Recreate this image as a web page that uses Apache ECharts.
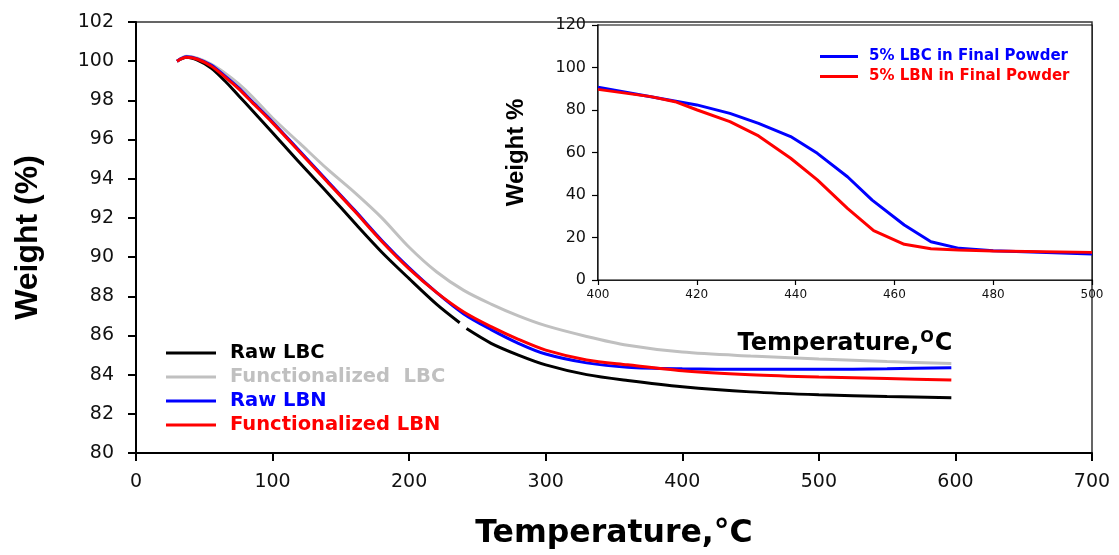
<!DOCTYPE html>
<html>
<head>
<meta charset="utf-8">
<script src="https://cdn.jsdelivr.net/npm/echarts@6/dist/echarts.min.js"></script>
<style>
html,body{margin:0;padding:0;background:#fff;}
#c{width:1119px;height:555px;}
</style>
</head>
<body>
<div id="c"></div>
<script>
// Main chart data: [temperature, weight %]
const rawLBC = [[30,100],[37,100.2],[45,100.05],[55,99.65],[65,99.0],[75,98.25],[85,97.5],[100,96.35],[120,94.8],[140,93.3],[160,91.75],[180,90.25],[200,88.9],[220,87.6],[237,86.65],[239.5,null],[242,86.35],[260,85.6],[280,85.0],[300,84.5],[330,84.0],[360,83.7],[400,83.38],[450,83.12],[500,82.97],[550,82.88],[597,82.82]];
const funcLBC = [[30,100],[37,100.25],[45,100.15],[55,99.85],[65,99.4],[75,98.85],[85,98.2],[100,97.1],[120,95.8],[140,94.5],[160,93.3],[180,92.0],[200,90.5],[220,89.25],[240,88.3],[260,87.6],[280,87.0],[300,86.5],[330,85.95],[360,85.5],[400,85.15],[450,84.95],[500,84.8],[550,84.67],[597,84.57]];
const rawLBN = [[30,100],[37,100.22],[45,100.12],[55,99.8],[65,99.25],[75,98.65],[85,97.95],[100,96.9],[120,95.4],[140,93.9],[160,92.4],[180,90.85],[200,89.45],[220,88.2],[240,87.1],[260,86.3],[280,85.6],[300,85.05],[330,84.6],[360,84.38],[400,84.3],[450,84.27],[500,84.27],[550,84.3],[597,84.35]];
const funcLBN = [[30,100],[37,100.2],[45,100.1],[55,99.75],[65,99.2],[75,98.6],[85,97.9],[100,96.85],[120,95.35],[140,93.85],[160,92.35],[180,90.8],[200,89.4],[220,88.2],[240,87.2],[260,86.45],[280,85.8],[300,85.25],[330,84.75],[360,84.5],[400,84.2],[450,84.0],[500,83.88],[550,83.8],[597,83.72]];

// Inset data: [temperature, weight %]
const insetLBC = [[400,90.7],[420,82.4],[426.7,78.4],[432.5,73.7],[439,67.5],[444.4,59.6],[450.5,48.6],[455.5,37.6],[462,25.9],[467.4,18.0],[473.1,14.9],[480,13.8],[500,12.2]];
const insetLBN = [[400,89.7],[410.7,86.3],[415.6,83.9],[420.1,80.0],[426.7,74.5],[432.5,67.8],[439,57.3],[444.4,47.1],[450.5,33.7],[455.8,23.2],[462,16.8],[467.4,14.7],[473,14.1],[480,13.6],[500,13.0]];

const names = ['Raw LBC','Functionalized  LBC','Raw LBN','Functionalized LBN'];
const colors = ['#000000','#c0c0c0','#0000ff','#ff0000'];
const insetNames = ['5% LBC in Final Powder','5% LBN in Final Powder'];
const insetColors = ['#0000ff','#ff0000'];

const DV = 'DejaVu Sans';
const LIB = 'Liberation Sans';

const chart = echarts.init(document.getElementById('c'), null, {renderer:'canvas'});
const mainData = [rawLBC, funcLBC, rawLBN, funcLBN];

const series = mainData.map((d,i)=>({
  name: names[i], type:'line', xAxisIndex:0, yAxisIndex:0, data:d,
  showSymbol:false, symbol:'none', smooth:0.3, connectNulls:false,
  lineStyle:{color:colors[i], width:3}, itemStyle:{color:colors[i]}, z: 2+i
}));
[insetLBC, insetLBN].forEach((d,i)=>series.push({
  name: insetNames[i], type:'line', xAxisIndex:1, yAxisIndex:1, data:d,
  showSymbol:false, symbol:'none', smooth:false,
  lineStyle:{color:insetColors[i], width:3}, itemStyle:{color:insetColors[i]}, z: 10+i
}));

chart.setOption({
  animation:false,
  backgroundColor:'#fff',
  grid:[
    {left:136, right:27, top:22, bottom:100, show:true, borderColor:'#333', borderWidth:1.5, containLabel:false},
    {left:598, right:27, top:25, bottom:275, show:true, borderColor:'#000', borderWidth:1.2, backgroundColor:'#fff', containLabel:false, z:5}
  ],
  legend:[
    {orient:'vertical', left:166, top:343, padding:0, itemWidth:50, itemHeight:3, icon:'rect', itemGap:4,
     textStyle:{fontFamily:DV, fontWeight:'bold', fontSize:19.5, padding:[0,0,0,9]},
     data: names.map((n,i)=>({name:n, textStyle:{color: i===0?'#000':colors[i]}}))},
    {orient:'vertical', left:820, top:49, padding:0, itemWidth:38, itemHeight:3, icon:'rect', itemGap:5,
     textStyle:{fontFamily:DV, fontWeight:'bold', fontSize:15, padding:[0,0,0,6]},
     data: insetNames.map((n,i)=>({name:n, textStyle:{color: insetColors[i]}})), z:20}
  ],
  xAxis:[
    {type:'value', gridIndex:0, min:0, max:700, interval:100,
     axisLine:{show:true, lineStyle:{color:'#000', width:2}},
     axisTick:{show:true, length:8, lineStyle:{color:'#000', width:2}},
     axisLabel:{fontFamily:DV, fontSize:19, color:'#111', margin:20},
     splitLine:{show:false},
     name:'Temperature,°C', nameLocation:'middle', nameGap:65,
     nameTextStyle:{fontFamily:DV, fontWeight:'bold', fontSize:31.5, color:'#000'}},
    {type:'value', gridIndex:1, min:400, max:500, interval:20,
     axisLine:{show:true, lineStyle:{color:'#000', width:1.5}},
     axisTick:{show:true, length:5, lineStyle:{color:'#000', width:1.2}},
     axisLabel:{fontFamily:DV, fontSize:12, color:'#111', margin:9},
     splitLine:{show:false},
     name:'Temperature,{sup|O}C', nameLocation:'middle', nameGap:50,
     nameTextStyle:{fontFamily:DV, fontWeight:'bold', fontSize:24, color:'#000',
       rich:{sup:{fontFamily:DV, fontWeight:'bold', fontSize:16, color:'#000', verticalAlign:'top', padding:[0,1,12,1]}}}}
  ],
  yAxis:[
    {type:'value', gridIndex:0, min:80, max:102, interval:2,
     axisLine:{show:true, lineStyle:{color:'#000', width:2}},
     axisTick:{show:true, length:8, lineStyle:{color:'#000', width:2}},
     axisLabel:{fontFamily:DV, fontSize:19, color:'#111', margin:22},
     splitLine:{show:false},
     name:'Weight (%)', nameLocation:'middle', nameGap:92,
     nameTextStyle:{fontFamily:LIB, fontWeight:'bold', fontSize:32, color:'#000'}},
    {type:'value', gridIndex:1, min:0, max:120, interval:20,
     axisLine:{show:true, lineStyle:{color:'#000', width:1.5}},
     axisTick:{show:true, length:6, lineStyle:{color:'#000', width:1.2}},
     axisLabel:{fontFamily:DV, fontSize:16, color:'#111', margin:12},
     splitLine:{show:false},
     name:'Weight %', nameLocation:'middle', nameGap:70,
     nameTextStyle:{fontFamily:LIB, fontWeight:'bold', fontSize:24, color:'#000'}}
  ],
  series: series
});
</script>
</body>
</html>
